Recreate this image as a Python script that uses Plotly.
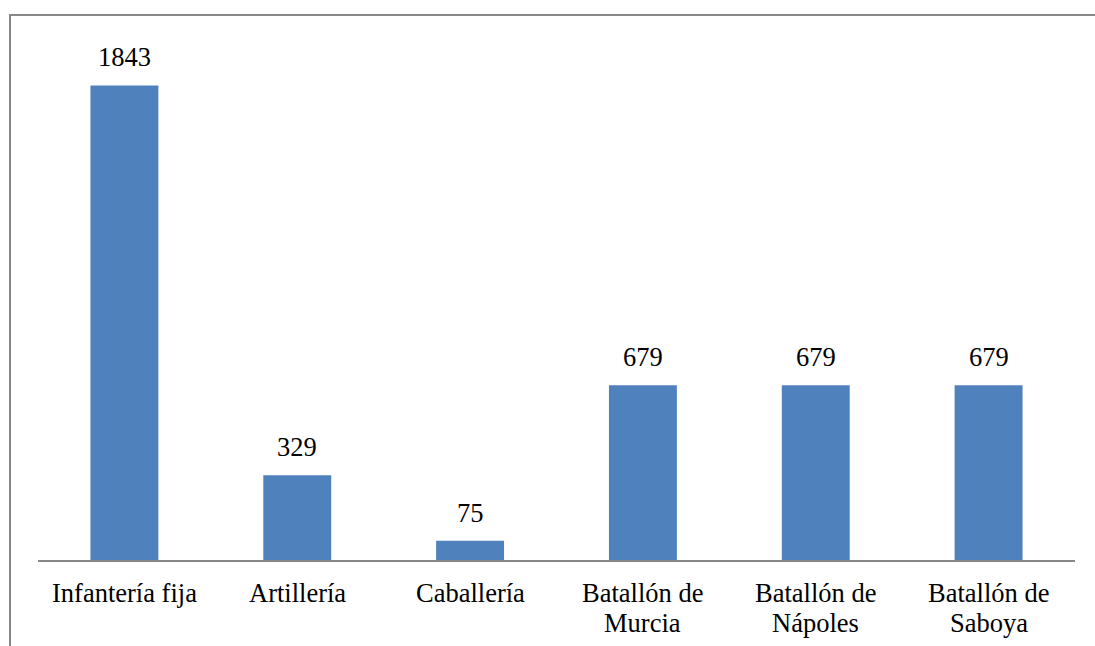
import plotly.graph_objects as go

# Categories and values
categorias = ["Infantería fija", "Artillería", "Caballería",
              "Batallón de<br>Murcia", "Batallón de<br>Nápoles", "Batallón de<br>Saboya"]
efectivos = [1843, 329, 75, 679, 679, 679]

fuente = dict(family="Liberation Serif, Times New Roman, serif", size=26.5, color="black")

fig = go.Figure(go.Bar(x=categorias, y=efectivos, marker_color="#4F81BD",
                       marker_line_width=0, hoverinfo="y"))

# value labels above each bar
for cat, val in zip(categorias, efectivos):
    fig.add_annotation(x=cat, y=val, text=str(val), showarrow=False,
                       yanchor="bottom", yshift=11, font=fuente)

# category labels, one annotation per line so the line spacing stays tight
for cat in categorias:
    for i, linea in enumerate(cat.split("<br>")):
        fig.add_annotation(x=cat, xref="x", y=0, yref="paper", text=linea,
                           showarrow=False, yanchor="top", yshift=-16 - 30 * i,
                           font=fuente)

# chart frame (only top and left edges fall inside the picture)
fig.add_shape(type="path", xref="paper", yref="paper",
              path="M -0.027,-0.3 L -0.027,1.0583 L 1.1,1.0583",
              line=dict(color="#888888", width=2))

fig.update_layout(
    width=1095, height=646,
    margin=dict(l=38, r=20, t=45, b=86),
    plot_bgcolor="white", paper_bgcolor="white",
    bargap=0.607, showlegend=False, font=fuente,
    xaxis=dict(showline=True, linecolor="#878787", linewidth=2, showgrid=False,
               showticklabels=False, ticks=""),
    yaxis=dict(range=[0, 2000], visible=False),
)

fig.write_html("out.html", config={"displayModeBar": False},
               post_script="document.body.style.margin='0';")
